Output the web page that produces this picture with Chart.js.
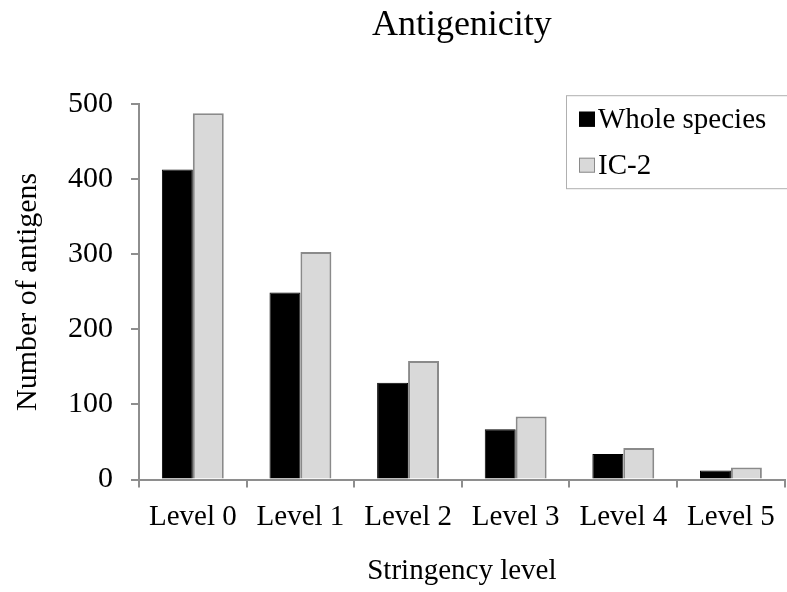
<!DOCTYPE html>
<html>
<head>
<meta charset="utf-8">
<script src="https://cdn.jsdelivr.net/npm/chart.js@4"></script>
<style>
  html, body { margin: 0; padding: 0; background: #fff; overflow: hidden; }
</style>
</head>
<body>
<canvas id="antigen-chart" width="787" height="592"></canvas>
<script>
const LEVELS = ['Level 0', 'Level 1', 'Level 2', 'Level 3', 'Level 4', 'Level 5'];
const WHOLE_SPECIES = [413, 249, 129, 67, 34, 12];
const IC2 = [488, 303, 158, 84, 42, 16];
const Y_TICKS = [0, 100, 200, 300, 400, 500];

const SERIF = '"Liberation Serif", "Times New Roman", serif';
const AXIS_GREY = '#8e8e8e';

// legend box sitting inside the plot, top right
const boxLegend = {
    id: 'boxLegend',
    afterDraw(chart) {
        const ctx = chart.ctx;
        const area = chart.chartArea;
        const left = area.left + 427;
        const top = area.top - 9;
        ctx.save();
        ctx.strokeStyle = '#b0b0b0';
        ctx.lineWidth = 1;
        ctx.strokeRect(left + 0.5, top + 0.5, 300, 93);
        ctx.font = '29px ' + SERIF;
        ctx.textBaseline = 'middle';
        ctx.textAlign = 'left';
        chart.data.datasets.forEach((ds, i) => {
            const cy = top + 24 + i * 46;
            ctx.fillStyle = ds.backgroundColor;
            ctx.fillRect(left + 13, cy - 7.5, 16, 15);
            ctx.strokeStyle = ds.borderColor;
            ctx.lineWidth = 1;
            ctx.strokeRect(left + 13.5, cy - 7, 15, 14);
            ctx.fillStyle = '#000';
            ctx.fillText(ds.label, left + 32, cy + 1);
        });
        ctx.restore();
    },
};

const el = document.getElementById('antigen-chart');
new Chart(el, {
    type: 'bar',
    data: {
        labels: LEVELS,
        datasets: [
            {
                label: 'Whole species',
                data: WHOLE_SPECIES,
                backgroundColor: '#000000',
                borderColor: '#000000',
                borderWidth: 1,
            },
            {
                label: 'IC-2',
                data: IC2,
                backgroundColor: '#d9d9d9',
                borderColor: '#8a8a8a',
                borderWidth: 2,
            },
        ],
    },
    options: {
        responsive: false,
        animation: false,
        datasets: {
            bar: {
                categoryPercentage: 0.575,
                barPercentage: 1,
            },
        },
        layout: { padding: 0 },
        plugins: {
            legend: { display: false },
            tooltip: { enabled: false },
            title: {
                display: true,
                text: 'Antigenicity',
                fullSize: false,
                color: '#000',
                font: { family: SERIF, size: 36, weight: 'normal' },
                padding: { top: 4, bottom: 57 },
            },
        },
        scales: {
            x: {
                grid: {
                    display: true,
                    drawOnChartArea: false,
                    offset: true,
                    tickLength: 8,
                    color: AXIS_GREY,
                    lineWidth: 2,
                },
                border: { color: AXIS_GREY, width: 2 },
                ticks: {
                    color: '#000',
                    padding: 12,
                    maxRotation: 0,
                    font: { family: SERIF, size: 29 },
                },
                title: {
                    display: true,
                    text: 'Stringency level',
                    color: '#000',
                    font: { family: SERIF, size: 29 },
                    padding: { top: 14, bottom: 3 },
                },
                afterFit: (scale) => { scale.height = 112.5; },
            },
            y: {
                min: 0,
                max: 500,
                afterBuildTicks: (scale) => { scale.ticks = Y_TICKS.map((v) => ({ value: v })); },
                grid: {
                    display: true,
                    drawOnChartArea: false,
                    tickLength: 8,
                    color: AXIS_GREY,
                    lineWidth: 2,
                },
                border: { color: AXIS_GREY, width: 2 },
                ticks: {
                    color: '#000',
                    padding: 18,
                    font: { family: SERIF, size: 30 },
                },
                title: {
                    display: true,
                    text: 'Number of antigens',
                    color: '#000',
                    font: { family: SERIF, size: 30 },
                    padding: { top: 10, bottom: 0 },
                },
                afterFit: (scale) => { scale.width = 139; },
            },
        },
    },
    plugins: [boxLegend],
});
</script>
</body>
</html>
